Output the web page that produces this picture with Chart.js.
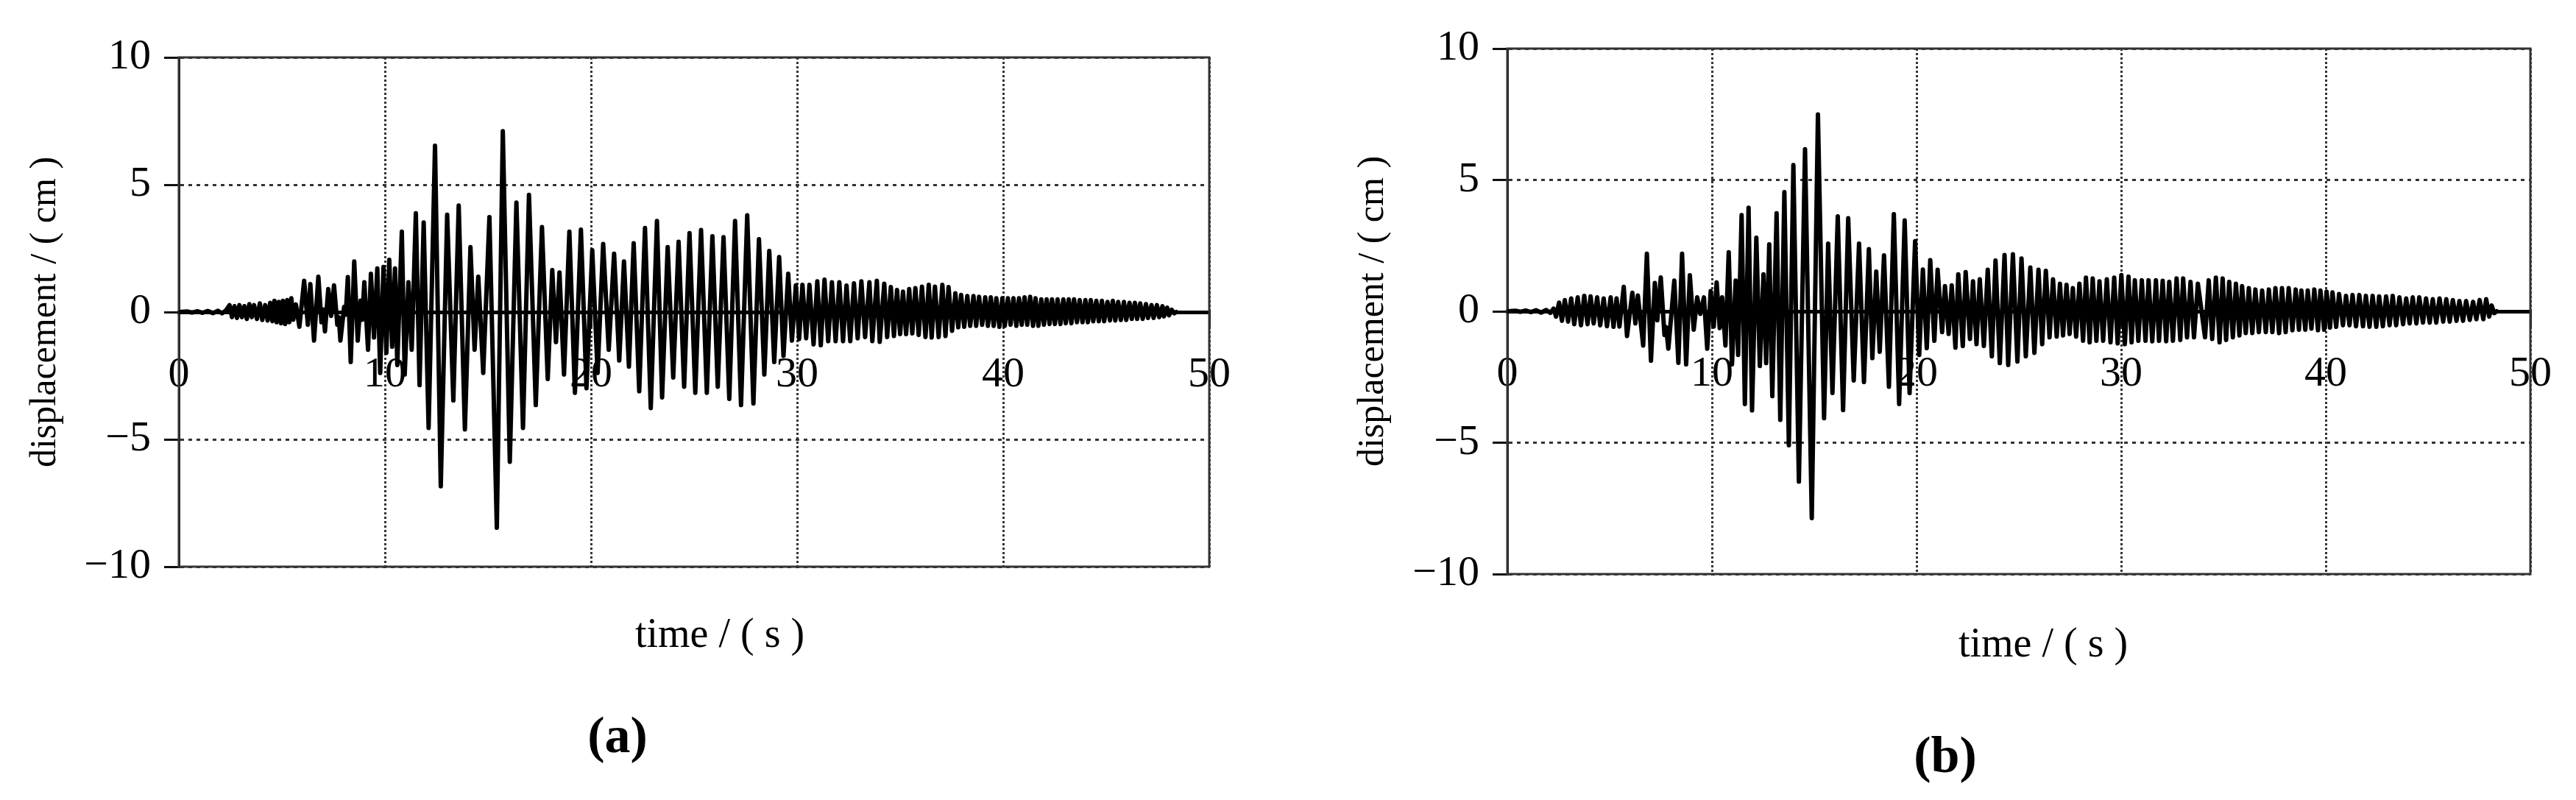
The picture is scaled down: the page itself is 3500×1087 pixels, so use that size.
<!DOCTYPE html>
<html><head><meta charset="utf-8">
<script src="https://cdn.jsdelivr.net/npm/chart.js@4.4.1/dist/chart.umd.min.js"></script>
<style>
html,body{margin:0;padding:0;background:#fff;width:3500px;height:1087px;overflow:hidden;}
canvas{position:absolute;top:0;}
#cA{left:0;} #cB{left:1750px;}
</style></head><body>
<canvas id="cA" width="1750" height="1087"></canvas>
<canvas id="cB" width="1750" height="1087"></canvas>
<script>
const xTicks = [0, 10, 20, 30, 40, 50];
const yTicks = [-10, -5, 0, 5, 10];
const xTitle = 'time / ( s )';
const yTitle = 'displacement / ( cm )';
const panelLabels = ['(a)', '(b)'];

// (a) time instants (s) of the traced turning points and displacement (cm)
const timesA = [
 0, 0.4, 0.65, 0.9, 1.15, 1.4, 1.65, 1.9, 2.1, 2.3,
 2.46, 2.58, 2.70, 2.82, 2.94, 3.06, 3.18, 3.30, 3.42, 3.54,
 3.65, 3.79, 3.93, 4.05, 4.19, 4.31, 4.43, 4.54, 4.64, 4.75,
 4.85, 4.96, 5.05, 5.16, 5.26, 5.36, 5.46, 5.55, 5.68, 5.85,
 6.08, 6.26, 6.38, 6.56, 6.77, 6.92, 7.0, 7.09, 7.25, 7.39,
 7.53, 7.69, 7.76, 7.84, 8.02, 8.1, 8.2, 8.34, 8.51, 8.68,
 8.82, 8.9, 9.0, 9.18, 9.32, 9.47, 9.63, 9.77, 9.93, 10.07,
 10.21, 10.35, 10.49, 10.6, 10.82, 10.96, 11.14, 11.3, 11.5, 11.68,
 11.88, 12.12, 12.43, 12.71, 13.02, 13.32, 13.58, 13.88, 14.15, 14.35,
 14.53, 14.77, 15.07, 15.43, 15.72, 16.06, 16.38, 16.7, 16.99, 17.32,
 17.62, 17.9, 18.12, 18.3, 18.47, 18.69, 18.95, 19.22, 19.51, 19.78,
 20.06, 20.32, 20.59, 20.86, 21.12, 21.37, 21.6, 21.84, 22.07, 22.34,
 22.62, 22.9, 23.2, 23.45, 23.72, 23.99, 24.25, 24.52, 24.78, 25.06,
 25.34, 25.62, 25.89, 26.15, 26.43, 26.71, 26.99, 27.28, 27.58, 27.88,
 28.15, 28.41, 28.65, 28.89, 29.13, 29.34, 29.57, 29.75, 29.94, 30.1,
 30.26, 30.44, 30.6, 30.8, 30.98, 31.15, 31.33, 31.51, 31.69, 31.87,
 32.05, 32.23, 32.4, 32.58, 32.76, 32.94, 33.12, 33.3, 33.51, 33.65,
 33.87, 34.01, 34.23, 34.37, 34.55, 34.7, 34.85, 35.0, 35.14, 35.29,
 35.44, 35.59, 35.74, 35.9, 36.06, 36.23, 36.39, 36.53, 36.69, 36.87,
 37.05, 37.2, 37.35, 37.52, 37.68, 37.82, 37.96, 38.11, 38.26, 38.4,
 38.56, 38.69, 38.83, 38.98, 39.13, 39.26, 39.4, 39.54, 39.67, 39.82,
 39.96, 40.08, 40.23, 40.36, 40.5, 40.64, 40.77, 40.9, 41.04, 41.17,
 41.31, 41.45, 41.57, 41.71, 41.85, 41.98, 42.11, 42.25, 42.37, 42.51,
 42.64, 42.78, 42.92, 43.04, 43.18, 43.31, 43.44, 43.58, 43.71, 43.85,
 43.99, 44.11, 44.25, 44.37, 44.52, 44.64, 44.79, 44.9, 45.06, 45.18,
 45.32, 45.44, 45.58, 45.71, 45.86, 45.97, 46.13, 46.24, 46.39, 46.5,
 46.65, 46.77, 46.93, 47.03, 47.2, 47.3, 47.46, 47.57, 47.73, 47.8,
 47.96, 48.05, 48.18, 48.3, 48.4
];
const dispA = [
 0, 0.02, -0.02, 0.03, -0.03, 0.04, -0.04, 0.05, -0.05, 0.08,
 0.27, -0.20, 0.23, -0.23, 0.27, -0.20, 0.23, -0.27, 0.31, -0.20,
 0.27, -0.27, 0.34, -0.31, 0.27, -0.33, 0.36, -0.36, 0.44, -0.40,
 0.40, -0.44, 0.44, -0.47, 0.47, -0.40, 0.54, -0.30, 0.30, -0.58,
 1.23, -0.50, 1.10, -1.12, 1.39, -0.40, 0.10, -0.76, 0.90, -0.15,
 1.05, -0.50, -0.20, -1.12, 0.20, -0.10, 1.37, -1.96, 1.99, -1.12,
 0.45, -0.30, 1.17, -1.48, 1.50, -1.00, 1.71, -2.39, 1.77, -1.60,
 2.05, -1.36, 1.71, -2.08, 3.16, -2.45, 1.17, -1.48, 3.88, -2.87,
 3.52, -4.55, 6.53, -6.84, 3.82, -3.47, 4.18, -4.61, 2.55, -1.48,
 1.39, -2.39, 3.73, -8.47, 7.10, -5.88, 4.30, -4.55, 4.60, -3.65,
 3.34, -2.63, 1.65, -1.18, 1.55, -2.45, 3.16, -3.17, 3.24, -2.99,
 2.43, -2.39, 2.67, -1.48, 2.29, -1.90, 1.99, -2.14, 2.70, -3.11,
 3.30, -3.77, 3.58, -3.35, 2.55, -2.57, 2.76, -2.93, 3.10, -3.17,
 3.22, -3.17, 2.98, -2.93, 2.94, -3.41, 3.58, -3.65, 3.80, -3.59,
 2.86, -2.45, 2.40, -1.96, 2.16, -1.72, 1.50, -1.12, 1.05, -1.06,
 1.07, -1.03, 1.07, -1.27, 1.21, -1.30, 1.27, -1.14, 1.17, -1.14,
 1.17, -1.14, 1.04, -1.14, 1.13, -1.03, 1.21, -0.98, 1.17, -1.14,
 1.23, -1.17, 1.11, -0.98, 0.98, -0.94, 0.87, -0.87, 0.80, -0.87,
 0.90, -0.84, 0.94, -0.90, 1.00, -0.98, 1.07, -1.00, 1.00, -0.98,
 1.07, -0.94, 0.98, -0.74, 0.74, -0.60, 0.67, -0.58, 0.63, -0.54,
 0.63, -0.54, 0.60, -0.50, 0.58, -0.54, 0.58, -0.54, 0.54, -0.58,
 0.54, -0.54, 0.54, -0.50, 0.54, -0.54, 0.54, -0.50, 0.58, -0.50,
 0.60, -0.54, 0.54, -0.54, 0.50, -0.50, 0.50, -0.47, 0.50, -0.47,
 0.50, -0.47, 0.50, -0.44, 0.50, -0.44, 0.50, -0.40, 0.47, -0.40,
 0.47, -0.40, 0.47, -0.36, 0.44, -0.36, 0.44, -0.36, 0.40, -0.33,
 0.44, -0.33, 0.40, -0.31, 0.40, -0.31, 0.36, -0.27, 0.36, -0.27,
 0.34, -0.27, 0.31, -0.23, 0.27, -0.23, 0.27, -0.20, 0.23, -0.17,
 0.17, -0.13, 0.09, -0.05, 0
];

// (b)
const timesB = [
 0, 0.4, 0.65, 0.9, 1.15, 1.4, 1.65, 1.9, 2.1, 2.26,
 2.38, 2.53, 2.67, 2.81, 2.97, 3.12, 3.27, 3.44, 3.60, 3.76,
 3.92, 4.07, 4.22, 4.39, 4.54, 4.71, 4.87, 5.05, 5.19, 5.34,
 5.48, 5.69, 5.85, 6.11, 6.26, 6.38, 6.64, 6.82, 7.02, 7.21,
 7.33, 7.5, 7.68, 7.76, 7.87, 8.16, 8.36, 8.54, 8.74, 8.92,
 9.11, 9.28, 9.43, 9.61, 9.77, 9.94, 10.09, 10.23, 10.38, 10.5,
 10.66, 10.82, 10.98, 11.16, 11.28, 11.45, 11.61, 11.79, 11.96, 12.17,
 12.34, 12.52, 12.65, 12.8, 12.95, 13.16, 13.34, 13.54, 13.76, 13.98,
 14.25, 14.55, 14.88, 15.18, 15.48, 15.68, 15.89, 16.15, 16.41, 16.66,
 16.93, 17.19, 17.43, 17.67, 17.84, 18.03, 18.2, 18.41, 18.65, 18.89,
 19.15, 19.42, 19.66, 19.93, 20.13, 20.31, 20.5, 20.67, 20.87, 21.03,
 21.25, 21.39, 21.57, 21.72, 21.9, 22.04, 22.26, 22.4, 22.61, 22.76,
 22.93, 23.09, 23.29, 23.48, 23.68, 23.86, 24.07, 24.3, 24.48, 24.71,
 24.93, 25.13, 25.34, 25.56, 25.76, 25.96, 26.14, 26.32, 26.5, 26.67,
 26.85, 27.01, 27.16, 27.33, 27.48, 27.64, 27.8, 27.96, 28.14, 28.28,
 28.46, 28.61, 28.79, 28.94, 29.12, 29.3, 29.48, 29.66, 29.83, 30.01,
 30.18, 30.36, 30.51, 30.67, 30.84, 31.01, 31.19, 31.34, 31.52, 31.7,
 31.85, 32.03, 32.2, 32.35, 32.53, 32.71, 32.89, 33.03, 33.22, 33.39,
 33.56, 33.75, 34.1, 34.28, 34.45, 34.63, 34.81, 34.96, 35.13, 35.28,
 35.46, 35.61, 35.78, 35.91, 36.09, 36.24, 36.41, 36.56, 36.73, 36.89,
 37.07, 37.22, 37.39, 37.54, 37.72, 37.86, 38.04, 38.19, 38.37, 38.53,
 38.69, 38.81, 39.0, 39.12, 39.3, 39.44, 39.62, 39.74, 39.92, 40.04,
 40.21, 40.33, 40.51, 40.65, 40.84, 40.99, 41.16, 41.31, 41.48, 41.64,
 41.82, 41.96, 42.14, 42.29, 42.47, 42.61, 42.79, 42.95, 43.12, 43.27,
 43.44, 43.6, 43.78, 43.93, 44.1, 44.25, 44.43, 44.57, 44.75, 44.9,
 45.08, 45.23, 45.4, 45.56, 45.74, 45.89, 46.06, 46.21, 46.39, 46.53,
 46.71, 46.86, 47.04, 47.2, 47.36, 47.52, 47.7, 47.84, 47.99, 48.11,
 48.23, 48.35
];
const dispB = [
 0, 0.02, -0.02, 0.03, -0.03, 0.04, -0.05, 0.05, -0.06, 0.10,
 -0.20, 0.33, -0.36, 0.43, -0.39, 0.49, -0.49, 0.53, -0.53, 0.59,
 -0.49, 0.57, -0.46, 0.53, -0.53, 0.49, -0.57, 0.53, -0.59, 0.49,
 -0.58, 0.93, -0.94, 0.71, -0.46, 0.60, -1.30, 2.19, -1.88, 1.08,
 -0.34, 1.29, -0.90, -0.60, -1.42, 1.17, -1.96, 2.19, -2.02, 1.37,
 -0.70, 0.53, -0.10, 0.53, -1.42, 0.77, -0.58, 1.10, -0.64, 0.53,
 -1.30, 2.25, -2.02, 1.17, -1.66, 3.66, -3.53, 3.94, -3.77, 2.80,
 -2.08, 1.41, -1.97, 2.55, -3.23, 3.73, -4.13, 4.54, -5.10, 5.57,
 -6.48, 6.17, -7.87, 7.49, -4.07, 2.58, -3.11, 3.61, -3.76, 3.54,
 -2.63, 2.58, -2.69, 2.37, -1.78, 1.51, -1.54, 2.13, -2.87, 3.70,
 -3.53, 3.46, -3.11, 2.67, -1.66, 1.59, -1.40, 1.95, -1.12, 1.58,
 -0.79, 0.96, -0.86, 0.99, -1.38, 1.41, -1.32, 1.49, -1.05, 1.14,
 -1.25, 1.22, -1.32, 1.58, -1.71, 1.93, -1.97, 2.14, -2.04, 2.17,
 -1.91, 2.01, -1.71, 1.67, -1.58, 1.58, -1.25, 1.54, -0.99, 1.22,
 -0.96, 1.05, -0.92, 1.01, -0.86, 0.88, -0.96, 1.05, -1.12, 1.28,
 -1.18, 1.25, -1.12, 1.14, -1.12, 1.22, -1.18, 1.28, -1.22, 1.38,
 -1.25, 1.32, -1.18, 1.18, -1.12, 1.18, -1.12, 1.18, -1.14, 1.18,
 -1.12, 1.16, -1.14, 1.12, -1.12, 1.25, -1.09, 1.25, -0.99, 1.12,
 -0.99, 1.05, -0.99, 1.18, -1.05, 1.28, -1.18, 1.25, -1.09, 1.12,
 -0.99, 1.05, -0.92, 0.96, -0.83, 0.88, -0.83, 0.83, -0.79, 0.79,
 -0.79, 0.83, -0.79, 0.88, -0.83, 0.88, -0.79, 0.88, -0.72, 0.83,
 -0.70, 0.79, -0.70, 0.79, -0.66, 0.83, -0.72, 0.79, -0.70, 0.75,
 -0.62, 0.72, -0.59, 0.66, -0.53, 0.59, -0.53, 0.62, -0.57, 0.62,
 -0.57, 0.59, -0.59, 0.59, -0.59, 0.57, -0.57, 0.57, -0.53, 0.59,
 -0.53, 0.53, -0.49, 0.49, -0.46, 0.53, -0.46, 0.53, -0.43, 0.49,
 -0.43, 0.46, -0.43, 0.49, -0.39, 0.46, -0.39, 0.43, -0.36, 0.39,
 -0.36, 0.39, -0.33, 0.36, -0.30, 0.43, -0.30, 0.46, -0.20, 0.22,
 -0.07, 0
];

const SERIF = "'Liberation Serif', 'Times New Roman', serif";
Chart.defaults.font.family = SERIF;
Chart.defaults.color = '#000';

const framePlugin = {
  id: 'frame',
  beforeDatasetsDraw(chart) {
    const {ctx, chartArea: a} = chart;
    ctx.save();
    ctx.strokeStyle = '#333';
    ctx.lineWidth = 3;
    ctx.strokeRect(a.left, a.top, a.right - a.left, a.bottom - a.top);
    ctx.restore();
  }
};
const textPlugin = {
  id: 'texts',
  afterDraw(chart, args, o) {
    const ctx = chart.ctx;
    ctx.save();
    ctx.fillStyle = '#000';
    ctx.textAlign = 'center';
    ctx.textBaseline = 'middle';
    ctx.font = '56px ' + SERIF;
    ctx.fillText(o.xTitle, o.xt[0], o.xt[1]);
    ctx.font = 'bold 70px ' + SERIF;
    ctx.fillText(o.label, o.pl[0], o.pl[1]);
    ctx.restore();
  }
};

function makeChart(id, times, disp, L) {
  const pts = times.map((t, i) => ({x: t, y: disp[i]}));
  return new Chart(document.getElementById(id), {
    type: 'line',
    data: {datasets: [{
      data: pts, borderColor: '#000', borderWidth: 6, pointRadius: 0,
      tension: 0, fill: false, borderJoinStyle: 'round', borderCapStyle: 'round'
    }]},
    options: {
      responsive: false, animation: false, devicePixelRatio: 1,
      layout: {padding: {left: L.padL, right: L.padR, top: L.padT, bottom: L.padB}},
      plugins: {
        legend: {display: false}, tooltip: {enabled: false},
        texts: {xTitle: xTitle, label: L.label, xt: L.xt, pl: L.pl}
      },
      scales: {
        x: {
          type: 'linear', position: {y: 0}, min: 0, max: 50,
          afterBuildTicks: s => { s.ticks = xTicks.map(v => ({value: v})); },
          ticks: {font: {size: 58}, color: '#000', padding: 33, maxRotation: 0, autoSkip: false,
                  callback: v => String(v)},
          grid: {color: '#333', lineWidth: 3, drawTicks: true, tickLength: 18,
                 tickColor: '#111', tickWidth: 3, tickBorderDash: []},
          border: {display: true, color: '#000', width: 5, dash: [3, 3]}
        },
        y: {
          type: 'linear', position: 'left', min: -10, max: 10,
          afterBuildTicks: s => { s.ticks = yTicks.map(v => ({value: v})); },
          afterFit: s => { s.width = L.yWidth; },
          ticks: {font: {size: 58}, color: '#000', padding: 18,
                  callback: v => (v < 0 ? '\u2212' + Math.abs(v) : String(v))},
          grid: {color: '#333', lineWidth: 3, drawTicks: true, tickLength: 20,
                 tickColor: '#111', tickWidth: 3, tickBorderDash: []},
          border: {display: true, color: '#111', width: 3, dash: [5, 6]},
          title: {display: true, text: yTitle, color: '#000', font: {size: 50},
                  padding: {top: 32, bottom: 0}}
        }
      }
    },
    plugins: [framePlugin, textPlugin]
  });
}

makeChart('cA', timesA, dispA, {padL: 0, padR: 107, padT: 78, padB: 317, yWidth: 243,
  label: panelLabels[0], xt: [978, 864], pl: [839, 1004]});
makeChart('cB', timesB, dispB, {padL: 54, padR: 49, padT: 66, padB: 307, yWidth: 244,
  label: panelLabels[1], xt: [1026, 877], pl: [893, 1031]});
</script>
</body></html>
